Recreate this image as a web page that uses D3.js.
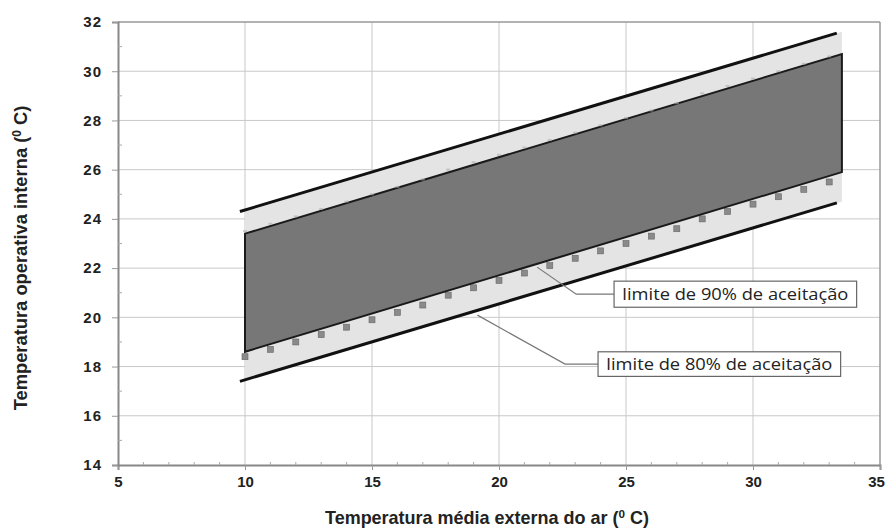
<!DOCTYPE html>
<html><head><meta charset="utf-8">
<script src="https://cdn.jsdelivr.net/npm/d3@7"></script>
<style>body{margin:0;background:#fff}svg{display:block}</style>
</head><body>
<svg id="c" width="888" height="530"></svg>
<script>
// ---- data ----
const xTicks = [5, 10, 15, 20, 25, 30, 35];
const yTicks = [14, 16, 18, 20, 22, 24, 26, 28, 30, 32];
const xMinor = [6,7,8,9,11,12,13,14,16,17,18,19,21,22,23,24,26,27,28,29,31,32,33,34];
const yMinor = [15,17,19,21,23,25,27,29,31];
// 80% acceptability limit lines (endpoints)
const lineX = [9.8, 33.3];
const upper80 = [24.3, 31.55];
const lower80 = [17.4, 24.65];
// shaded bands (endpoints)
const bandX = [10, 33.5];
const lightTop = [24.35, 31.6];
const lightBottom = [17.45, 24.7];
const darkTop = [23.4, 30.7];
const darkBottom = [18.6, 25.9];
// 90% marker series
const markX = [10,11,12,13,14,15,16,17,18,19,20,21,22,23,24,25,26,27,28,29,30,31,32,33];
const lower90 = [18.4,18.7,19.0,19.3,19.6,19.9,20.2,20.5,20.9,21.2,21.5,21.8,22.1,22.4,22.7,23.0,23.3,23.6,24.0,24.3,24.6,24.9,25.2,25.5];
const upper90 = [23.4,23.7,24.0,24.3,24.6,24.9,25.2,25.5,25.9,26.2,26.5,26.8,27.1,27.4,27.7,28.0,28.3,28.6,29.0,29.3,29.6,29.9,30.2,30.5];
const labels = ["limite de 90% de aceitação", "limite de 80% de aceitação"];
const xTitle = "Temperatura média externa do ar (";
const yTitle = "Temperatura operativa interna (";

// ---- layout ----
const W = 888, H = 530;
const m = {left: 118, top: 22, right: 8, bottom: 65};
const svg = d3.select("#c");
const x = d3.scaleLinear().domain([5, 35]).range([m.left, W - m.right]);
const y = d3.scaleLinear().domain([14, 32]).range([H - m.bottom, m.top]);
const g = svg.append("g");

// grid
g.selectAll(".vg").data(xTicks.slice(1, -1)).join("line")
  .attr("x1", d => x(d)).attr("x2", d => x(d)).attr("y1", y(14)).attr("y2", y(32))
  .attr("stroke", "#c8c8c8").attr("stroke-width", 1);
g.selectAll(".hg").data(yTicks.slice(1, -1)).join("line")
  .attr("x1", x(5)).attr("x2", x(35)).attr("y1", d => y(d)).attr("y2", d => y(d))
  .attr("stroke", "#c8c8c8").attr("stroke-width", 1);

// bands
const band = (top, bot) => d3.area()
  .x((d, i) => x(bandX[i])).y0((d, i) => y(bot[i])).y1((d, i) => y(top[i]));
g.append("path").datum(bandX).attr("d", band(lightTop, lightBottom)).attr("fill", "#e4e4e4");

// lower 90% markers
g.selectAll(".m1").data(markX).join("rect")
  .attr("x", (d) => x(d) - 3).attr("y", (d, i) => y(lower90[i]) - 3)
  .attr("width", 6).attr("height", 6).attr("fill", "#8a8a8a").attr("stroke", "#666").attr("stroke-width", 0.6);

g.append("path").datum(bandX).attr("d", band(darkTop, darkBottom))
  .attr("fill", "#777").attr("stroke", "#1a1a1a").attr("stroke-width", 2);

// upper 90% markers (faint, on edge)
g.selectAll(".m2").data(markX).join("rect")
  .attr("x", (d) => x(d) - 2).attr("y", (d, i) => y(upper90[i]) - 3.5)
  .attr("width", 4).attr("height", 2).attr("fill", "#aaa").attr("opacity", 0.6);

// 80% lines
const ln = vals => d3.line().x((d, i) => x(lineX[i])).y((d, i) => y(vals[i]));
[upper80, lower80].forEach(v => {
  g.append("path").datum(lineX).attr("d", ln(v)).attr("fill", "none")
    .attr("stroke", "#111").attr("stroke-width", 3);
});

// axes frame
g.append("line").attr("x1", x(5)).attr("x2", x(35)).attr("y1", y(32)).attr("y2", y(32)).attr("stroke", "#999").attr("stroke-width", 1.5);
g.append("line").attr("x1", x(35)).attr("x2", x(35)).attr("y1", y(32)).attr("y2", y(14)).attr("stroke", "#999").attr("stroke-width", 1.5);

const xAxis = g.append("g").attr("transform", `translate(0,${y(14)})`)
  .call(d3.axisBottom(x).tickValues(xTicks).tickSize(5).tickFormat(d3.format("d")).tickPadding(8));
const yAxis = g.append("g").attr("transform", `translate(${x(5)},0)`)
  .call(d3.axisLeft(y).tickValues(yTicks).tickSize(6).tickFormat(d3.format("d")).tickPadding(10));
[xAxis, yAxis].forEach(a => {
  a.select(".domain").attr("stroke", "#888").attr("stroke-width", 2);
  a.selectAll(".tick line").attr("stroke", "#999");
  a.selectAll("text").attr("font-family", "Liberation Sans, Arial, sans-serif")
    .attr("font-size", 15).attr("font-weight", "bold").attr("fill", "#222");
});
yAxis.selectAll("text").attr("letter-spacing", 1);
xAxis.selectAll("text").attr("dy", "0.6em");
xAxis.selectAll(".tick").filter(d => d === 35).select("text").attr("dx", -4);
// minor ticks
g.selectAll(".xm").data(xMinor).join("line")
  .attr("x1", d => x(d)).attr("x2", d => x(d)).attr("y1", y(14) - 3).attr("y2", y(14))
  .attr("stroke", "#aaa");
g.selectAll(".ym").data(yMinor).join("line")
  .attr("x1", x(5)).attr("x2", x(5) + 4).attr("y1", d => y(d)).attr("y2", d => y(d))
  .attr("stroke", "#aaa");

// annotations
const ann = [
  {a: [21.5, 22.04], e: [23.04, 21.0], box: [24.53, 21.47, 34.08, 20.41]},
  {a: [19.15, 20.09], e: [22.6, 18.99], box: [23.9, 18.6, 33.45, 17.6]}
];
ann.forEach((o, i) => {
  const bx0 = x(o.box[0]), by0 = y(o.box[1]), bx1 = x(o.box[2]), by1 = y(o.box[3]);
  const my = (by0 + by1) / 2;
  g.append("polyline")
    .attr("points", [[x(o.a[0]), y(o.a[1])], [x(o.e[0]), my], [bx0, my]].map(p => p.join(",")).join(" "))
    .attr("fill", "none").attr("stroke", "#777").attr("stroke-width", 1.2);
  g.append("rect").attr("x", bx0).attr("y", by0).attr("width", bx1 - bx0).attr("height", by1 - by0)
    .attr("fill", "#fff").attr("stroke", "#666").attr("stroke-width", 1.2);
  g.append("text").attr("x", (bx0 + bx1) / 2).attr("y", my + 5.5).attr("text-anchor", "middle")
    .attr("font-family", "Open Sans, Noto Sans, sans-serif").attr("font-size", 15.5).attr("fill", "#222")
    .attr("textLength", 226).attr("lengthAdjust", "spacingAndGlyphs")
    .text(labels[i]);
});

// titles, fitted to the reference's text extents
function fit(sel, target) {
  const w = sel.node().getBBox().width;
  const fs = +sel.attr("font-size");
  const k = target / w;
  sel.attr("font-size", fs * k);
  sel.selectAll("tspan.sup").attr("font-size", fs * k * 0.65);
}
const xt = svg.append("text").attr("x", 487).attr("y", 524).attr("text-anchor", "middle")
  .attr("font-family", "Liberation Sans Narrow, Liberation Sans, Arial, sans-serif")
  .attr("font-size", 16).attr("font-weight", "bold").attr("fill", "#222");
xt.append("tspan").text(xTitle);
xt.append("tspan").attr("class", "sup").attr("font-size", 10).attr("dy", -6).text("0");
xt.append("tspan").attr("dy", 6).text(" C)");
fit(xt, 324);

const yt = svg.append("text").attr("transform", "translate(27,258) rotate(-90)").attr("text-anchor", "middle")
  .attr("font-family", "Liberation Sans, Arial, sans-serif")
  .attr("font-size", 15).attr("font-weight", "bold").attr("fill", "#222");
yt.append("tspan").text(yTitle);
yt.append("tspan").attr("class", "sup").attr("font-size", 10).attr("dy", -6).text("0");
yt.append("tspan").attr("dy", 6).text(" C)");
fit(yt, 305);
</script>
</body></html>
